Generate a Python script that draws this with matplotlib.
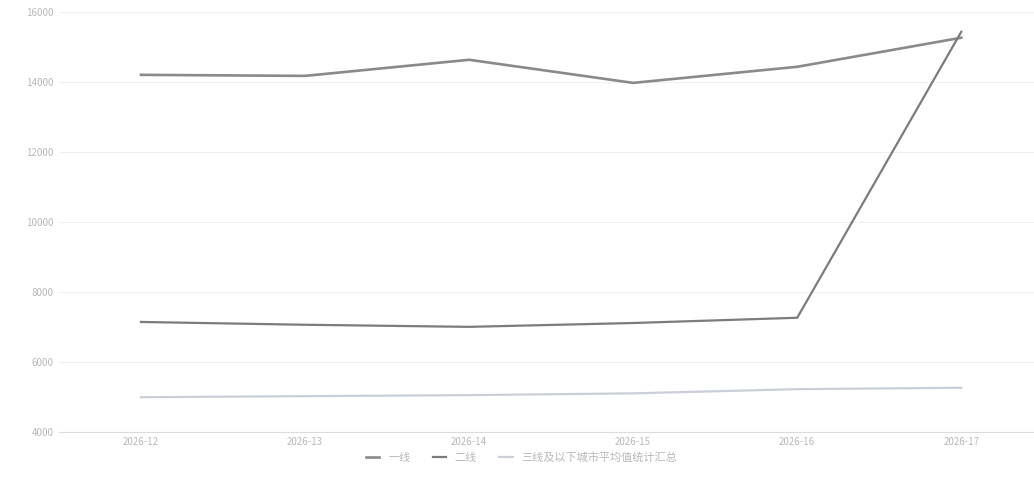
import matplotlib

matplotlib.use("Agg")
import matplotlib.pyplot as plt

plt.rcParams["font.family"] = ["Noto Sans CJK SC", "DejaVu Sans"]

# data
weeks = ["2026-12", "2026-13", "2026-14", "2026-15", "2026-16", "2026-17"]
series_names = ["一线", "二线", "三线及以下城市平均值统计汇总"]
line_1 = [14200, 14170, 14630, 13970, 14430, 15260]
line_2 = [7140, 7060, 7000, 7110, 7260, 15430]
line_3 = [4990, 5020, 5050, 5100, 5220, 5260]
y_ticks = [4000, 6000, 8000, 10000, 12000, 14000, 16000]

colors = ["#8a8a8e", "#7c7c80", "#c9ced8"]

fig = plt.figure(figsize=(10.34, 4.93), dpi=100)
ax = fig.add_axes([0.057, 0.124, 0.952, 0.852])

x = list(range(len(weeks)))
for vals, name, c, lw in zip([line_1, line_2, line_3], series_names, colors,
                             [1.9, 1.6, 1.6]):
    ax.plot(x, vals, color=c, linewidth=lw, label=name)

ax.set_xlim(-0.5, len(weeks) - 0.5)
ax.set_ylim(4000, 16000)
ax.set_xticks(x)
ax.set_xticklabels(weeks)
ax.set_yticks(y_ticks)
ax.tick_params(axis="both", length=0, labelsize=7, colors="#b8b8bc", pad=4)
ax.grid(axis="y", color="#f0f0f2", linewidth=0.8)
for side in ["top", "right", "left"]:
    ax.spines[side].set_visible(False)
ax.spines["bottom"].set_color("#dcdce0")

leg = ax.legend(loc="upper center", bbox_to_anchor=(0.47, -0.025), ncol=3,
                frameon=False, fontsize=8, handlelength=1.2, columnspacing=2.0,
                handletextpad=0.8)
for t in leg.get_texts():
    t.set_color("#b8b8bc")

fig.savefig("out.png", dpi=100)
